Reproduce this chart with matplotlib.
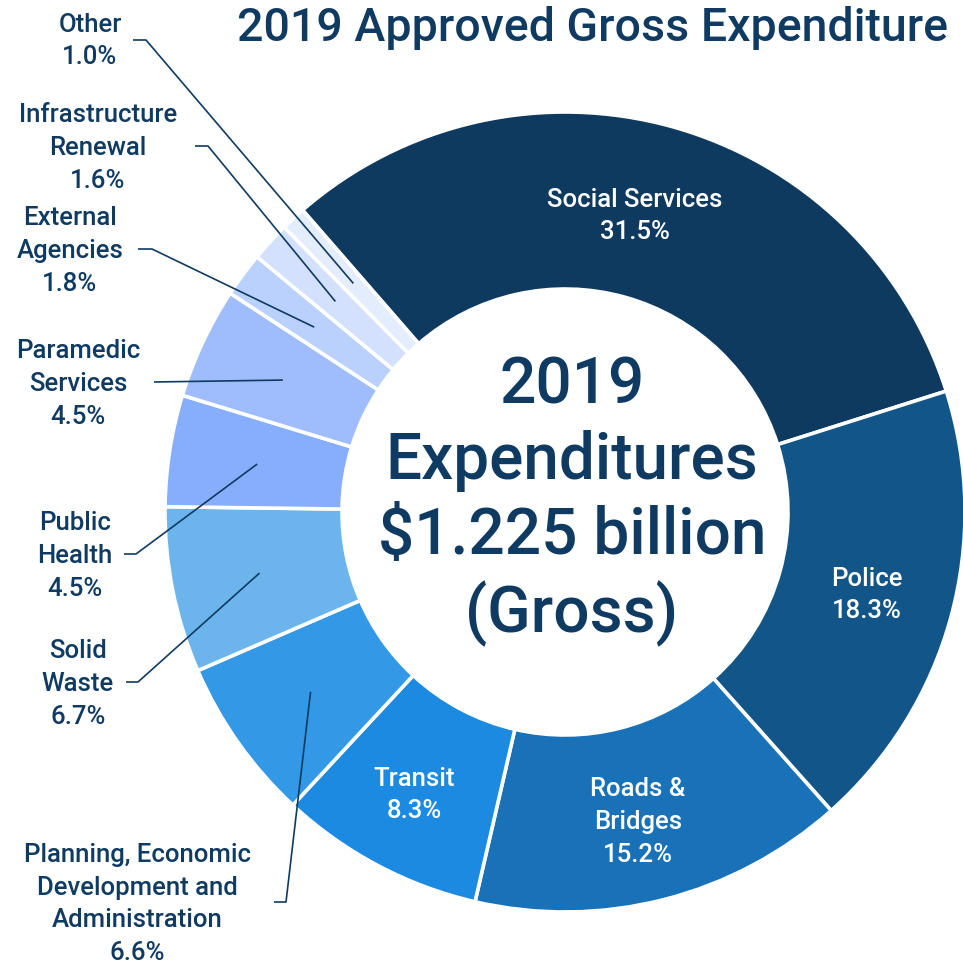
import matplotlib.pyplot as plt
import numpy as np

plt.rcParams['font.family'] = ['Roboto', 'DejaVu Sans']

# --- data ---
categories = ['Social Services', 'Police', 'Roads &\nBridges', 'Transit',
              'Planning, Economic\nDevelopment and\nAdministration',
              'Solid\nWaste', 'Public\nHealth', 'Paramedic\nServices',
              'External\nAgencies', 'Infrastructure\nRenewal', 'Other']
shares = [31.5, 18.3, 15.2, 8.3, 6.6, 6.7, 4.5, 4.5, 1.8, 1.6, 1.0]
colors = ['#0e3a60', '#125689', '#1971b7', '#1b8ae0', '#3398e5', '#6bb4ec',
          '#87aefc', '#9fbdfd', '#bad0fd', '#d3e0fe', '#e4edfe']

title = '2019 Approved Gross Expenditure'
center_text = '2019\nExpenditures\n$1.225 billion\n(Gross)'

NAVY = '#0f3b62'
W, H = 963, 966
CX, CY = 565, H - 512
R_OUT, R_IN = 400, 223
START = 131

fig = plt.figure(figsize=(W / 100, H / 100), dpi=100)
ax = fig.add_axes([0, 0, 1, 1])

wedges, _ = ax.pie(
    shares,
    colors=colors,
    startangle=START,
    counterclock=False,
    radius=R_OUT,
    center=(CX, CY),
    wedgeprops=dict(width=R_OUT - R_IN, edgecolor='white', linewidth=2.6)
)
ax.set_xlim(0, W)
ax.set_ylim(0, H)
ax.set_aspect('equal')
ax.axis('off')

# labels inside the ring (pixel positions from the top-left)
inner_pos = {0: (635, 216), 1: (867, 595), 2: (638, 822), 3: (414, 795)}
for i, (px, py) in inner_pos.items():
    ax.text(px, H - py, f'{categories[i]}\n{shares[i]:.1f}%', color='white',
            ha='center', va='center', fontsize=18.5, fontweight='medium',
            linespacing=1.45)

# outside labels: text centre, elbow start x, elbow end x, elbow y
outer = {
    10: ((90, 41), 133, 146, 40),
    9: ((98, 148), 195, 208, 146),
    8: ((70, 251), 138, 152, 249),
    7: ((78, 384), 154, 154, 382),
    6: ((75, 556), 124, 136, 554),
    5: ((78, 684), 126, 138, 682),
    4: ((137, 904), 274, 286, 902),
}
r_mid = (R_OUT + R_IN) / 2
for i, ((tx, ty), x0, x1, ey) in outer.items():
    ax.text(tx, H - ty, f'{categories[i]}\n{shares[i]:.1f}%', color=NAVY,
            ha='center', va='center', fontsize=18.5, fontweight='medium',
            linespacing=1.45)
    w = wedges[i]
    ang = np.deg2rad((w.theta1 + w.theta2) / 2)
    ax_, ay_ = CX + r_mid * np.cos(ang), CY + r_mid * np.sin(ang)
    ax.plot([x0, x1, ax_], [H - ey, H - ey, ay_], color=NAVY, lw=1.2,
            solid_capstyle='butt')

ax.text(572, H - 501, center_text, color=NAVY, ha='center', va='center',
        fontsize=46, fontweight='medium', linespacing=1.27)

ax.text(237, H - 28, title, color=NAVY, ha='left', va='center',
        fontsize=33.5, fontweight='medium')

fig.savefig('out.png', dpi=100)
